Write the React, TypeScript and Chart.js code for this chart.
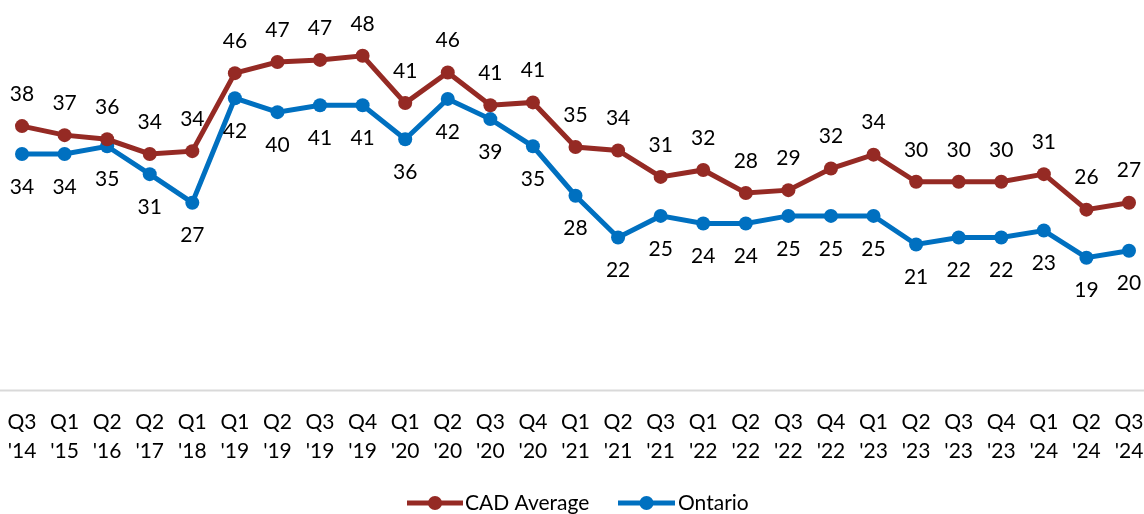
import React, { useEffect, useRef } from "react";
import { Chart, registerables } from "chart.js";

Chart.register(...registerables);

const quarters = ["Q3", "Q1", "Q2", "Q2", "Q1", "Q1", "Q2", "Q3", "Q4", "Q1", "Q2", "Q3", "Q4", "Q1", "Q2", "Q3", "Q1", "Q2", "Q3", "Q4", "Q1", "Q2", "Q3", "Q4", "Q1", "Q2", "Q3"];
const years = ["'14", "'15", "'16", "'17", "'18", "'19", "'19", "'19", "'19", "'20", "'20", "'20", "'20", "'21", "'21", "'21", "'22", "'22", "'22", "'22", "'23", "'23", "'23", "'23", "'24", "'24", "'24"];

const cadAverage = [37.9, 36.6, 36.0, 33.9, 34.3, 45.5, 47.1, 47.4, 48.0, 41.2, 45.6, 40.9, 41.3, 34.9, 34.4, 30.6, 31.6, 28.3, 28.7, 31.8, 33.8, 29.9, 29.9, 29.9, 31.0, 25.9, 26.9];
const ontario = [33.9, 33.9, 35.0, 31.0, 26.9, 41.9, 39.9, 40.9, 40.9, 36.0, 41.8, 38.9, 35.0, 27.9, 21.9, 25.0, 23.9, 23.9, 25.0, 25.0, 25.0, 20.9, 21.9, 21.9, 22.9, 19.0, 20.0];

const seriesNames = ["CAD Average", "Ontario"];
const seriesColors = ["#952A24", "#0070C0"];

const FONT = "Lato, 'Liberation Sans', sans-serif";

const labelsPlugin = {
  id: "customLabels",
  beforeDatasetsDraw(chart: any) {
    const { ctx, chartArea } = chart;
    ctx.save();
    ctx.strokeStyle = "#D9D9D9";
    ctx.lineWidth = 2;
    ctx.beginPath();
    ctx.moveTo(0, chartArea.bottom + 0.5);
    ctx.lineTo(chart.width, chartArea.bottom + 0.5);
    ctx.stroke();
    ctx.restore();
  },
  afterDatasetsDraw(chart: any) {
    const { ctx } = chart;
    ctx.save();
    ctx.font = `21px ${FONT}`;
    ctx.fillStyle = "#000000";
    ctx.textAlign = "center";
    ctx.textBaseline = "middle";
    chart.data.datasets.forEach((ds: any, i: number) => {
      const meta = chart.getDatasetMeta(i);
      meta.data.forEach((pt: any, j: number) => {
        const v = Math.round(ds.data[j]);
        const dy = i === 0 ? -32 : 33;
        ctx.fillText(String(v), pt.x, pt.y + dy);
      });
    });
    // legend
    const ly = 503;
    const items = [
      { x: 407, w: 56, tx: 465 },
      { x: 618, w: 57, tx: 678 },
    ];
    items.forEach((it, i) => {
      ctx.strokeStyle = seriesColors[i];
      ctx.lineWidth = 5;
      ctx.beginPath();
      ctx.moveTo(it.x, ly);
      ctx.lineTo(it.x + it.w, ly);
      ctx.stroke();
      ctx.fillStyle = seriesColors[i];
      ctx.beginPath();
      ctx.arc(it.x + it.w / 2, ly, 7, 0, Math.PI * 2);
      ctx.fill();
      ctx.fillStyle = "#000000";
      ctx.textAlign = "left";
      ctx.fillText(seriesNames[i], it.tx, ly);
    });
    ctx.restore();
  },
};

export default function App() {
  const ref = useRef<HTMLCanvasElement>(null);
  useEffect(() => {
    if (!ref.current) return;
    const labels = quarters.map((q, i) => [q, years[i]]);
    const chart = new Chart(ref.current, {
      type: "line",
      data: {
        labels,
        datasets: [
          {
            label: seriesNames[0],
            data: cadAverage,
            borderColor: seriesColors[0],
            backgroundColor: seriesColors[0],
            borderWidth: 5,
            pointRadius: 7,
            pointBorderWidth: 0,
            tension: 0,
          },
          {
            label: seriesNames[1],
            data: ontario,
            borderColor: seriesColors[1],
            backgroundColor: seriesColors[1],
            borderWidth: 5,
            pointRadius: 7,
            pointBorderWidth: 0,
            tension: 0,
          },
        ],
      },
      options: {
        animation: false,
        responsive: false,
        maintainAspectRatio: false,
        layout: { padding: { left: 22, right: 15, top: 0, bottom: 38 } },
        plugins: {
          legend: { display: false },
          tooltip: { enabled: false },
        },
        scales: {
          x: {
            offset: false,
            grid: { display: false },
            border: { display: false },
            afterFit: (scale: any) => {
              scale.paddingLeft = 0;
              scale.paddingRight = 0;
            },
            ticks: {
              color: "#000000",
              font: { family: FONT, size: 21, lineHeight: "29px" } as any,
              padding: 10,
              maxRotation: 0,
              autoSkip: false,
            },
          },
          y: {
            display: false,
            min: 0,
            max: 55,
          },
        },
      },
      plugins: [labelsPlugin],
    });
    return () => chart.destroy();
  }, []);
  return (
    <div style={{ position: "fixed", left: 0, top: 0, width: 1144, height: 514, background: "#fff" }}>
      <canvas ref={ref} width={1144} height={514} style={{ display: "block" }} />
    </div>
  );
}
